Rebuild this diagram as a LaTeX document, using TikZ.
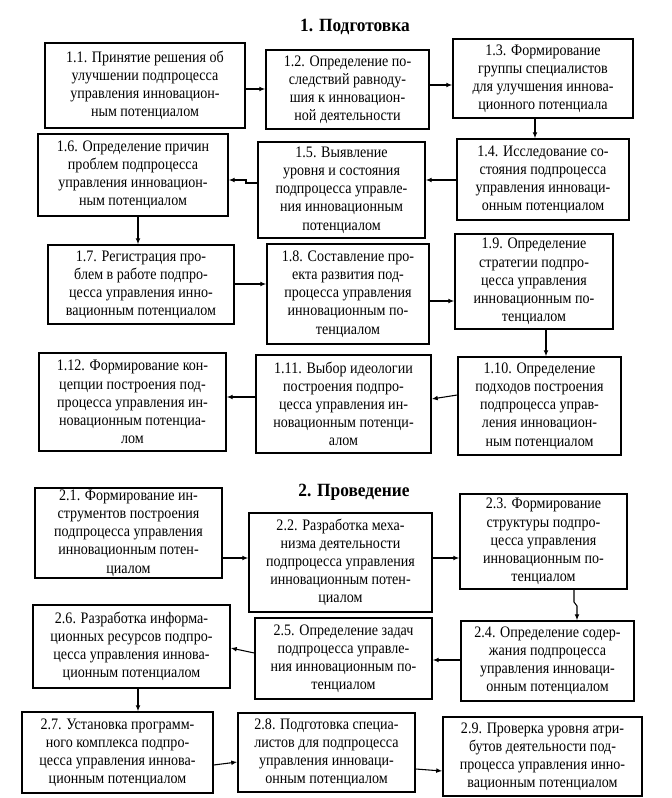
\documentclass[tikz,border=0pt]{standalone}
\usepackage{fontspec}
\setmainfont{Liberation Serif}[FakeStretch=0.88]
\newfontfamily\ttlfont{Liberation Serif}[FakeStretch=0.93]
\usetikzlibrary{arrows.meta}
\tikzset{
  bx/.style 2 args={draw, line width=1.1pt, align=center, inner sep=0pt,
    minimum width=#1*0.75pt, minimum height=#2*0.75pt,
    font=\fontsize{12}{13.6}\selectfont},
  ttl/.style={font=\ttlfont\fontsize{14}{16}\selectfont\bfseries},
  arr/.style={line width=0.8pt, -{Latex[length=4.5pt,width=3.6pt]}}
}
\begin{document}
\begin{tikzpicture}[x=0.75pt,y=-0.75pt]
\useasboundingbox (0,0) rectangle (671,798);
% ---- stage 1 ----
\node[ttl] (t1) at (355,27) {1. Подготовка};
\node[bx={200}{85}] (n11) at (145,85.5) {1.1. Принятие решения об\\ улучшении подпроцесса\\ управления инновацион-\\ ным потенциалом};
\node[bx={163}{79}] (n12) at (347.5,89.5) {1.2. Определение по-\\ следствий равноду-\\ шия к инновацион-\\ ной деятельности};
\node[bx={180}{79}] (n13) at (543,78.5) {1.3. Формирование\\ группы специалистов\\ для улучшения иннова-\\ ционного потенциала};
\node[bx={172}{81}] (n14) at (543,179.5) {1.4. Исследование со-\\ стояния подпроцесса\\ управления инноваци-\\ онным потенциалом};
\node[bx={167}{96}] (n15) at (341.5,190) {1.5. Выявление\\ уровня и состояния\\ подпроцесса управле-\\ ния инновационным\\ потенциалом};
\node[bx={190}{82}] (n16) at (133,175) {1.6. Определение причин\\ проблем подпроцесса\\ управления инновацион-\\ ным потенциалом};
\node[bx={186}{79}] (n17) at (141,284.5) {1.7. Регистрация про-\\ блем в работе подпро-\\ цесса управления инно-\\ вационным потенциалом};
\node[bx={162}{100}] (n18) at (348,294) {1.8. Составление про-\\ екта развития под-\\ процесса управления\\ инновационным по-\\ тенциалом};
\node[bx={158}{95}] (n19) at (534,281.5) {1.9. Определение\\ стратегии подпро-\\ цесса управления\\ инновационным по-\\ тенциалом};
\node[bx={163}{98}] (n110) at (539.5,406) {1.10. Определение\\ подходов построения\\ подпроцесса управ-\\ ления инновацион-\\ ным потенциалом};
\node[bx={175}{98}] (n111) at (343.5,404) {1.11. Выбор идеологии\\ построения подпро-\\ цесса управления ин-\\ новационным потенци-\\ алом};
\node[bx={187}{98}] (n112) at (132.5,402) {1.12. Формирование кон-\\ цепции построения под-\\ процесса управления ин-\\ новационным потенциа-\\ лом};
% ---- stage 2 ----
\node[ttl] (t2) at (354,492) {2. Проведение};
\node[bx={187}{90}] (n21) at (128.5,533) {2.1. Формирование ин-\\ струментов построения\\ подпроцесса управления\\ инновационным потен-\\ циалом};
\node[bx={183}{99}] (n22) at (340.5,562.5) {2.2. Разработка меха-\\ низма деятельности\\ подпроцесса управления\\ инновационным потен-\\ циалом};
\node[bx={167}{95}] (n23) at (543.5,541.5) {2.3. Формирование\\ структуры подпро-\\ цесса управления\\ инновационным по-\\ тенциалом};
\node[bx={173}{80}] (n24) at (547.5,661) {2.4. Определение содер-\\ жания подпроцесса\\ управления инноваци-\\ онным потенциалом};
\node[bx={177}{81}] (n25) at (343.5,658.5) {2.5. Определение задач\\ подпроцесса управле-\\ ния инновационным по-\\ тенциалом};
\node[bx={197}{83}] (n26) at (131.5,646.5) {2.6. Разработка информа-\\ ционных ресурсов подпро-\\ цесса управления иннова-\\ ционным потенциалом};
\node[bx={191}{81}] (n27) at (117.5,752.5) {2.7. Установка программ-\\ ного комплекса подпро-\\ цесса управления иннова-\\ ционным потенциалом};
\node[bx={177}{79}] (n28) at (326.5,752.5) {2.8. Подготовка специа-\\ листов для подпроцесса\\ управления инноваци-\\ онным потенциалом};
\node[bx={199}{79}] (n29) at (542.5,756.5) {2.9. Проверка уровня атри-\\ бутов деятельности под-\\ процесса управления инно-\\ вационным потенциалом};
% ---- connectors stage 1 ----
\draw[arr] (n11.east |- 0,89) -- (n12.west |- 0,89);
\draw[arr] (n12.east |- 0,85) -- (n13.west |- 0,85);
\draw[arr] (n13.south -| 535,0) -- (n14.north -| 535,0);
\draw[arr] (n14.west |- 0,180) -- (n15.east |- 0,180);
\draw[arr] (n15.west |- 0,183) -| (246,180) -- (n16.east |- 0,180);
\draw[arr] (n16.south -| 138,0) -- (n17.north -| 138,0);
\draw[arr] (n17.east |- 0,284) -- (n18.west |- 0,284);
\draw[arr] (n18.east |- 0,301) -- (n19.west |- 0,301);
\draw[arr] (n19.south -| 546,0) -- (n110.north -| 546,0);
\draw[arr] (n110.west |- 0,395) -- (n111.east |- 0,399);
\draw[arr] (n111.west |- 0,397) -- (n112.east |- 0,397);
% ---- connectors stage 2 ----
\draw[arr] (n21.east |- 0,558) -- (n22.west |- 0,558);
\draw[arr] (n22.east |- 0,558) -- (n23.west |- 0,558);
\draw[arr] (n23.south -| 574,0) -- (574,602) -- (577,606) -- (n24.north -| 577,0);
\draw[arr] (n24.west |- 0,660) -- (n25.east |- 0,660);
\draw[arr] (n25.west |- 0,653) -- (n26.east |- 0,648);
\draw[arr] (n26.south -| 138,0) -- (n27.north -| 138,0);
\draw[arr] (n27.east |- 0,765) -- (n28.west |- 0,762);
\draw[arr] (n28.east |- 0,769) -- (n29.west |- 0,771);
\end{tikzpicture}
\end{document}
